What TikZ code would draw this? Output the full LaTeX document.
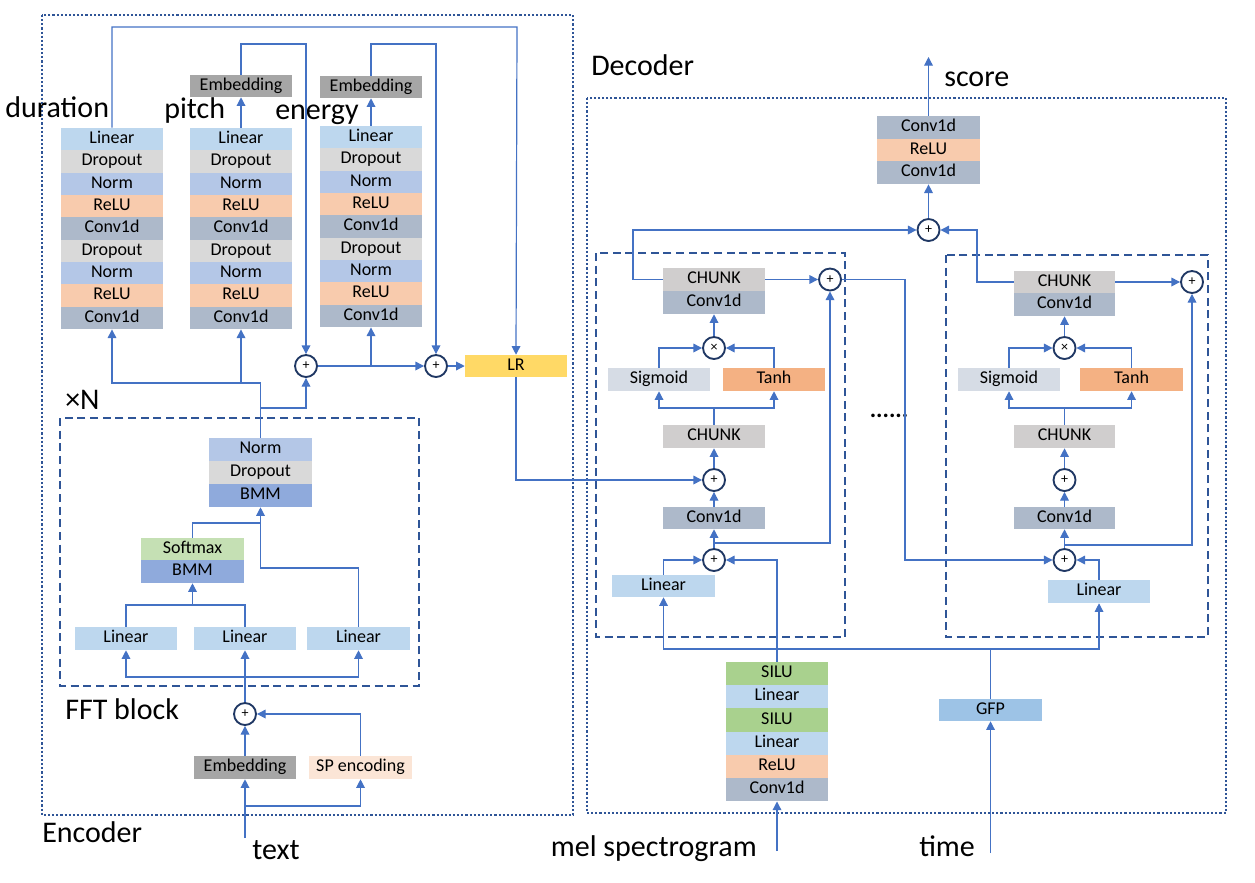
\documentclass[tikz,border=0pt]{standalone}
\usepackage{fontspec}
\setmainfont{Carlito}
\usetikzlibrary{arrows.meta,calc}
\definecolor{cLin}{HTML}{BDD7EE}
\definecolor{cDrop}{HTML}{D9D9D9}
\definecolor{cNorm}{HTML}{B4C7E7}
\definecolor{cRelu}{HTML}{F8CBAD}
\definecolor{cConv}{HTML}{ADB9CA}
\definecolor{cEmb}{HTML}{A6A6A6}
\definecolor{cChunk}{HTML}{D0CECE}
\definecolor{cSoft}{HTML}{C5E0B4}
\definecolor{cBmm}{HTML}{8FAADC}
\definecolor{cSilu}{HTML}{A9D18E}
\definecolor{cLR}{HTML}{FFD966}
\definecolor{cSig}{HTML}{D6DCE5}
\definecolor{cTanh}{HTML}{F4B183}
\definecolor{cGfp}{HTML}{9DC3E6}
\definecolor{cSP}{HTML}{FBE5D6}
\definecolor{cLine}{HTML}{4472C4}
\definecolor{cFrame}{HTML}{2F5597}
\definecolor{cCirc}{HTML}{203864}
\tikzset{
  blk/.style={rectangle,inner sep=0pt,font=\fontsize{13.5}{16}\selectfont,text height=9pt,text depth=2.8pt},
  arr/.style={draw=cLine,line width=0.9pt,-{Triangle[length=6.5pt,width=6.5pt]}},
  ln/.style={draw=cLine,line width=0.9pt},
  pl/.style={circle,draw=cCirc,line width=1.4pt,fill=white,minimum size=16.5pt,inner sep=0pt,font=\fontsize{10.5}{10.5}\selectfont},
  outerbox/.style={draw=cFrame,line width=2.2pt,dash pattern=on 1.6pt off 1.5pt},
  innerbox/.style={draw=cFrame,line width=1.5pt,dash pattern=on 6pt off 3.5pt},
  lab/.style={font=\fontsize{22.5}{27}\selectfont,inner sep=0pt}
}
\newcommand{\mybx}[7]{\node[blk,fill=#6,minimum width={(#4-#2)*0.75pt},minimum height={(#5-#3)*0.75pt}] (#1) at ({(#2+#4)/2},{(#3+#5)/2}) {#7};}
\newcommand{\mystack}[6]{\foreach \c/\t [count=\i] in {#6}{\node[blk,fill=\c,minimum width={(#3-#2)*0.75pt},minimum height={#5*0.75pt}] (#1\i) at ({(#2+#3)/2},{#4+(\i-0.5)*#5}) {\t};}}
\begin{document}
\begin{tikzpicture}[x=0.75pt,y=-0.75pt]
\useasboundingbox (0,0) rectangle (1255,882);
% frames
\draw[outerbox] (42,15) rectangle (573,815);
\draw[outerbox] (587,98) rectangle (1226,813);
\draw[innerbox] (60,418) rectangle (419,686);
\draw[innerbox] (596,253) rectangle (845,637);
\draw[innerbox] (946,255) rectangle (1208,637);

% ===== Encoder =====
\mystack{d}{61}{163}{128}{22.35}{cLin/Linear,cDrop/Dropout,cNorm/Norm,cRelu/ReLU,cConv/Conv1d,cDrop/Dropout,cNorm/Norm,cRelu/ReLU,cConv/Conv1d}
\mystack{p}{190}{292}{128}{22.35}{cLin/Linear,cDrop/Dropout,cNorm/Norm,cRelu/ReLU,cConv/Conv1d,cDrop/Dropout,cNorm/Norm,cRelu/ReLU,cConv/Conv1d}
\mystack{e}{320}{422}{126}{22.35}{cLin/Linear,cDrop/Dropout,cNorm/Norm,cRelu/ReLU,cConv/Conv1d,cDrop/Dropout,cNorm/Norm,cRelu/ReLU,cConv/Conv1d}
\mybx{pemb}{190}{75}{292}{97}{cEmb}{Embedding}
\mybx{eemb}{320}{76}{422}{98}{cEmb}{Embedding}
\mybx{lr}{465}{355}{567}{377}{cLR}{LR}
\node[pl] (pl1) at (306,366) {+};
\node[pl] (pl2) at (436,366) {+};

\node[lab,anchor=base west] (tdur) at (5,117) {duration};
\node[lab,anchor=base west] (tpit) at (164,118) {pitch};
\node[lab,anchor=base west] (tene) at (275,119) {energy};

% FFT block
\mybx{fn}{209}{438}{312}{461}{cNorm}{Norm}
\mybx{fd}{209}{461}{312}{484}{cDrop}{Dropout}
\mybx{fb}{209}{484}{312}{507}{cBmm}{BMM}
\mybx{fs}{141}{538}{244}{560}{cSoft}{Softmax}
\mybx{fb2}{141}{560}{244}{583}{cBmm}{BMM}
\mybx{l1}{75}{627}{177}{650}{cLin}{Linear}
\mybx{l2}{194}{627}{296}{650}{cLin}{Linear}
\mybx{l3}{307}{627}{410}{650}{cLin}{Linear}
\node[pl] (pl3) at (245,714) {+};
\mybx{emb}{194}{756}{296}{779}{cEmb}{Embedding}
\mybx{sp}{309}{756}{412}{779}{cSP}{SP encoding}

\node[lab,anchor=base west] (txN) at (65,409) {×N};
\node[lab,anchor=base west] (tfft) at (65,719) {FFT block};
\node[lab,anchor=base west] (tenc) at (42,842) {Encoder};
\node[lab,anchor=base west] (ttext) at (252,859) {text};

% encoder connectors
\coordinate (dtop) at (517,27);
\coordinate (ptop) at (306,44);
\coordinate (etop) at (436,44);
\draw[arr] (d1.north) |- (dtop) -- (lr.north);
\draw[arr] (p1.north) -- (pemb.south);
\draw[arr] (e1.north) -- (eemb.south);
\draw[arr] (pemb.north) |- (ptop) -- (pl1.north);
\draw[arr] (eemb.north) |- (etop) -- (pl2.north);
\draw[arr] (pl1.east) -- (pl2.west);
\draw[arr] (e9.south |- pl1.east) -- (e9.south);
\draw[arr] (pl2.east) -- (lr.west);
\coordinate (jn) at (0,383);
\coordinate (jb) at (0,408);
\draw[ln] (fn.north) -- (fn.north |- jn);
\draw[arr] (fn.north |- jn) -| (d9.south);
\draw[arr] (p9.south |- jn) -- (p9.south);
\draw[arr] (fn.north |- jb) -| (pl1.south);

\coordinate (ja) at (260.5,523);
\coordinate (jc) at (260.5,568);
\draw[arr] (fs.north) |- (ja) -- (fb.south);
\draw[ln] (l3.north) |- (jc) -- (ja);
\coordinate (jd) at (0,605);
\draw[ln] (l1.north) |- (l2.north |- jd) -- (l2.north);
\draw[arr] (fb2.south |- jd) -- (fb2.south);
\draw[arr] (pl3.north) -- (l2.south);
\coordinate (je) at (0,677);
\draw[arr] (l2.south |- je) -| (l1.south);
\draw[arr] (l2.south |- je) -| (l3.south);
\draw[arr] (emb.north) -- (pl3.south);
\draw[arr] (sp.north) |- (pl3.east);
\coordinate (tx) at (245,838);
\coordinate (jt) at (0,806);
\draw[arr] (tx) -- (emb.south);
\draw[arr] (emb.south |- jt) -| (sp.south);

% ===== Decoder =====
\node[lab,anchor=base west] (tdec) at (591,75) {Decoder};
\node[lab,anchor=base west] (tscore) at (944,86) {score};
\mystack{tp}{877}{980}{116}{22.7}{cConv/Conv1d,cRelu/ReLU,cConv/Conv1d}
\coordinate (sc) at (928.5,57);
\draw[arr] (tp1.north) -- (sc);
\node[pl] (pt) at (928.5,230) {+};
\draw[arr] (pt.north) -- (tp3.south);

% left block
\mybx{ca}{663}{268}{765}{291}{cChunk}{CHUNK}
\mybx{cva}{663}{291}{765}{314}{cConv}{Conv1d}
\node[pl] (paA) at (830,279.5) {+};
\node[pl] (ma) at (714,348) {×};
\mybx{sga}{608}{368}{710}{391}{cSig}{Sigmoid}
\mybx{tha}{723}{368}{825}{391}{cTanh}{Tanh}
\mybx{cb}{663}{425}{765}{448}{cChunk}{CHUNK}
\node[pl] (pmA) at (714,480) {+};
\mybx{cvb}{663}{507}{765}{529}{cConv}{Conv1d}
\node[pl] (pbA) at (714,560) {+};
\mybx{lna}{612}{575}{715}{597}{cLin}{Linear}

% right block
\mybx{cc}{1014}{271}{1115}{293}{cChunk}{CHUNK}
\mybx{cvc}{1014}{293}{1115}{316}{cConv}{Conv1d}
\node[pl] (paB) at (1192,282) {+};
\node[pl] (mb) at (1064.5,348) {×};
\mybx{sgb}{958}{368}{1060}{391}{cSig}{Sigmoid}
\mybx{thb}{1080}{368}{1183}{391}{cTanh}{Tanh}
\mybx{cd}{1014}{425}{1115}{448}{cChunk}{CHUNK}
\node[pl] (pmB) at (1064.5,480) {+};
\mybx{cvd}{1014}{507}{1115}{529}{cConv}{Conv1d}
\node[pl] (pbB) at (1064.5,560) {+};
\mybx{lnb}{1048}{580}{1150}{603}{cLin}{Linear}

\node[font=\bfseries\fontsize{18}{18}\selectfont,anchor=base,inner sep=0pt] (dots) at (889,417) {......};

% bottom stack
\mystack{s}{726}{828}{662}{23.2}{cSilu/SILU,cLin/Linear,cSilu/SILU,cLin/Linear,cRelu/ReLU,cConv/Conv1d}
\mybx{gfp}{939}{699}{1042}{721}{cGfp}{GFP}
\node[lab,anchor=base east] (tmel) at (757,856) {mel spectrogram};
\node[lab,anchor=base west] (ttime) at (919,856) {time};
\coordinate (mel) at (777,851);
\coordinate (tm) at (990.5,853);
\draw[arr] (mel) -- (s6.south);
\draw[arr] (tm) -- (gfp.south);

% decoder connectors
\coordinate (jl) at (633,0);
\coordinate (jr) at (977,0);
\draw[arr] (ca.west) -| (jl |- pt.west) -- (pt.west);
\draw[arr] (cc.west) -| (jr |- pt.east) -- (pt.east);
\draw[arr] (ca.east) -- (paA.west);
\draw[arr] (cc.east) -- (paB.west);
\draw[arr] (ma.north) -- (cva.south);
\draw[arr] (mb.north) -- (cvc.south);
\draw[arr] (sga.north) |- (ma.west);
\draw[arr] (tha.north) |- (ma.east);
\draw[arr] (sgb.north) |- (mb.west);
\draw[arr] (thb.north) |- (mb.east);
\coordinate (jg) at (0,408);
\draw[ln] (cb.north) -- (cb.north |- jg);
\draw[arr] (cb.north |- jg) -| (sga.south);
\draw[arr] (cb.north |- jg) -| (tha.south);
\draw[ln] (cd.north) -- (cd.north |- jg);
\draw[arr] (cd.north |- jg) -| (sgb.south);
\draw[arr] (cd.north |- jg) -| (thb.south);
\draw[arr] (pmA.north) -- (cb.south);
\draw[arr] (pmB.north) -- (cd.south);
\draw[arr] (cvb.north) -- (pmA.south);
\draw[arr] (cvd.north) -- (pmB.south);
\draw[arr] (pbA.north) -- (cvb.south);
\draw[arr] (pbB.north) -- (cvd.south);
\coordinate (jh) at (0,543);
\coordinate (jh2) at (0,545);
\draw[arr] (pbA.north |- jh) -| (paA.south);
\draw[arr] (pbB.north |- jh2) -| (paB.south);
\draw[arr] (lna.north) |- (pbA.west);
\draw[arr] (lnb.north) |- (pbB.east);
\draw[arr] (s1.north) |- (pbA.east);
\draw[arr] (lr.south) |- (pmA.west);
\coordinate (jo) at (905,0);
\draw[arr] (paA.east) -| (jo |- pbB.west) -- (pbB.west);
\coordinate (jtm) at (0,649);
\draw[arr] (gfp.north) |- (lna.south |- jtm) -- (lna.south);
\draw[arr] (gfp.north |- jtm) -| (lnb.south);
\end{tikzpicture}
\end{document}
